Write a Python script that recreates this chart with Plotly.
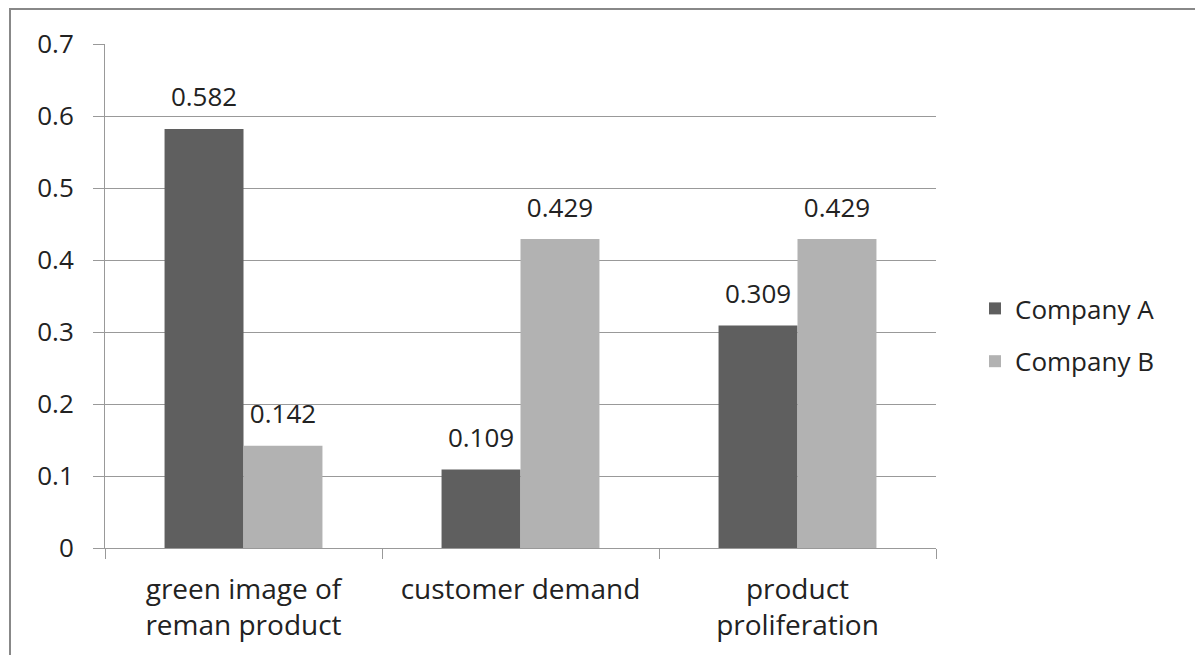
import plotly.graph_objects as go

categories = ["green image of<br>reman product", "customer demand", "product<br>proliferation"]
company_a = [0.582, 0.109, 0.309]
company_b = [0.142, 0.429, 0.429]
series_names = ["Company A", "Company B"]
colors = ["#5f5f5f", "#b2b2b2"]
y_ticks = [0, 0.1, 0.2, 0.3, 0.4, 0.5, 0.6, 0.7]
y_ticklabels = ["0", "0.1", "0.2", "0.3", "0.4", "0.5", "0.6", "0.7"]

FONT = "Open Sans, Noto Sans, sans-serif"
FS = 26

fig = go.Figure()
for i, (name, vals) in enumerate(zip(series_names, [company_a, company_b])):
    fig.add_trace(go.Bar(
        x=categories, y=vals, name=name,
        marker=dict(color=colors[i], line=dict(width=0)),
        offsetgroup=str(i), legendgroup=name,
    ))
for i, (name, vals) in enumerate(zip(series_names, [company_a, company_b])):
    fig.add_trace(go.Scatter(
        x=categories, y=vals, mode="markers+text", showlegend=False,
        text=[f"{v:.3f}" for v in vals], textposition="top center",
        textfont=dict(family=FONT, size=FS, color="#222222"),
        marker=dict(size=24, color="rgba(0,0,0,0)"),
        offsetgroup=str(i), cliponaxis=False, hoverinfo="skip",
    ))

L, T, W, H = 105, 44, 1195, 655
R_px, B_px = 936, 548
pw, ph = R_px - L, B_px - T

def px_to_paper_x(p):
    return (p - L) / pw

def px_to_paper_y(p):
    return (B_px - p) / ph

fig.update_layout(
    width=W, height=H,
    margin=dict(l=L, r=W - R_px, t=T, b=H - B_px, pad=0, autoexpand=False),
    paper_bgcolor="white", plot_bgcolor="white",
    barmode="group", bargap=0.43, bargroupgap=0,
    scattermode="group", scattergap=0.43,
    font=dict(family=FONT, size=FS, color="#222222"),
    showlegend=True,
    legend=dict(x=px_to_paper_x(975), y=px_to_paper_y(335), xanchor="left", yanchor="middle",
                traceorder="grouped", tracegroupgap=16,
                font=dict(family=FONT, size=FS, color="#222222"),
                itemwidth=30, bgcolor="rgba(0,0,0,0)"),
    xaxis=dict(showgrid=False, showline=True, linecolor="#999999", linewidth=1,
               ticks="outside", tickson="boundaries", ticklen=10, tickcolor="#999999",
               ticklabelstandoff=16, automargin=False,
               tickfont=dict(family=FONT, size=28, color="#222222"), fixedrange=True),
    yaxis=dict(range=[0, 0.7], tickvals=y_ticks, ticktext=y_ticklabels,
               showgrid=True, gridcolor="#999999", gridwidth=1,
               showline=True, linecolor="#999999", linewidth=1,
               ticks="outside", ticklen=11, tickcolor="#999999",
               ticklabelstandoff=14, automargin=False,
               tickfont=dict(family=FONT, size=FS, color="#222222"),
               zeroline=False, fixedrange=True),
    shapes=[dict(type="rect", xref="paper", yref="paper",
                 x0=px_to_paper_x(10), x1=px_to_paper_x(1205),
                 y0=px_to_paper_y(665), y1=px_to_paper_y(9),
                 line=dict(color="#888888", width=2), fillcolor="rgba(0,0,0,0)", layer="above")],
)

fig.write_html("out.html")
